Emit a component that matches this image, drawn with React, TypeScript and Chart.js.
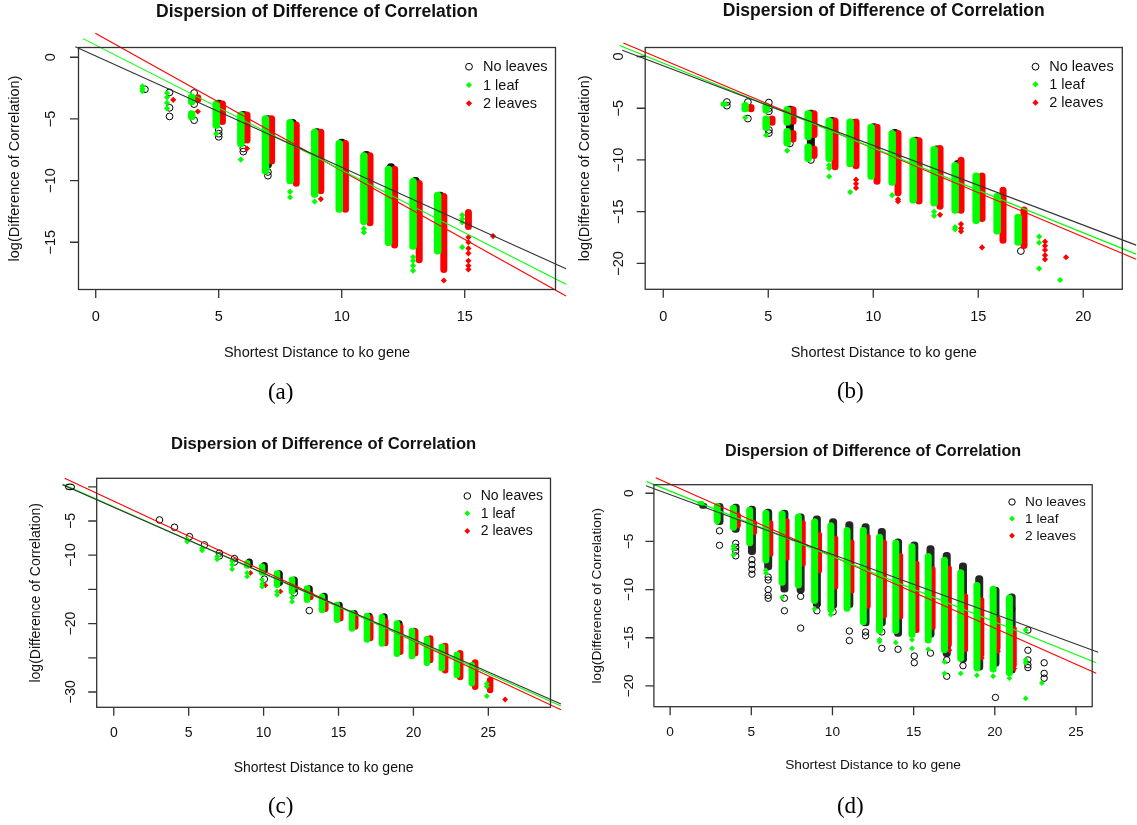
import React, { useEffect, useRef } from "react";
import { Chart, registerables } from "chart.js";

Chart.register(...registerables);

type Col = [number, number, number]; // x, top, bottom of a dense column of points
type Pt = [number, number];

const TITLE = "Dispersion of Difference of Correlation";
const X_LABEL = "Shortest Distance to ko gene";
const Y_LABEL = "log(Difference of Correlation)";
const SERIES = ["No leaves", "1 leaf", "2 leaves"];

// ---------------- panel (a) ----------------
const aXTicks = [0, 5, 10, 15];
const aYTicks = [0, -5, -10, -15];
const aBlackCols: Col[] = [
  [5, -3.45, -5.2], [6, -4.35, -7.0], [7, -4.7, -9.0], [8, -5.0, -10.0], [9, -5.75, -11.0],
  [10, -6.6, -12.2], [11, -7.6, -13.0], [12, -8.6, -14.8], [13, -9.7, -15.0], [14, -10.9, -15.5],
];
const aBlackPts: Pt[] = [
  [2, -2.6], [3, -2.85], [3, -4.1], [3, -4.8], [4, -2.9], [4, -3.8], [4, -5.1], [5, -5.9], [5, -6.2],
  [5, -6.45], [6, -7.4], [6, -7.65], [7, -9.3], [7, -9.6],
];
const aGreenCols: Col[] = [
  [4, -2.95, -3.9], [4, -4.3, -5.1], [5, -3.5, -5.8], [6, -4.4, -7.3], [7, -4.7, -9.5], [8, -5.0, -10.3],
  [9, -5.8, -11.4], [10, -6.7, -12.6], [11, -7.7, -13.6], [12, -8.8, -15.3], [13, -9.8, -15.6], [14, -10.9, -16.0],
];
const aGreenPts: Pt[] = [
  [2, -2.35], [2, -2.55], [2, -2.75], [3, -2.9], [3, -3.25], [3, -3.7], [3, -4.15], [5, -6.2], [6, -8.3],
  [8, -10.9], [8, -11.35], [9, -11.7], [11, -13.9], [11, -14.2], [13, -16.2], [13, -16.5], [13, -16.9],
  [13, -17.3], [15, -12.8], [15, -13.1], [15, -13.4], [15, -15.4],
];
const aRedCols: Col[] = [
  [4, -3.0, -3.7], [5, -3.5, -5.5], [6, -4.4, -7.0], [7, -4.7, -8.7], [8, -5.2, -10.5], [9, -5.8, -11.1],
  [10, -6.7, -12.6], [11, -7.7, -13.7], [12, -8.8, -15.5], [13, -9.95, -16.7], [14, -11.0, -17.5], [15, -12.3, -14.0],
];
const aRedPts: Pt[] = [
  [3, -3.45], [4, -4.4], [6, -7.4], [9, -11.5], [14, -18.1], [15, -14.6], [15, -15.0], [15, -15.5],
  [15, -15.9], [15, -16.5], [15, -16.9], [15, -17.2], [16, -14.5],
];
const aFitNone: Pt[] = [[-0.83, 0.86], [19.12, -17.14]];
const aFitLeaf1: Pt[] = [[-0.52, 1.51], [19.12, -18.41]];
const aFitLeaf2: Pt[] = [[-0.015, 1.95], [19.12, -19.35]];

// ---------------- panel (b) ----------------
const bXTicks = [0, 5, 10, 15, 20];
const bYTicks = [0, -5, -10, -15, -20];
const bBlackCols: Col[] = [
  [6, -4.75, -8.0], [7, -5.15, -9.5], [8, -5.85, -10.0], [9, -6.05, -10.5], [10, -6.45, -11.5],
  [11, -7.0, -12.0], [12, -7.75, -13.5], [13, -8.6, -14.0], [14, -10.0, -15.0],
];
const bBlackPts: Pt[] = [
  [3, -4.4], [3, -4.75], [4, -4.4], [4, -6.0], [5, -4.45], [5, -5.0], [5, -5.3], [5, -7.1], [5, -7.4],
  [6, -6.5], [6, -7.7], [6, -8.4], [7, -7.7], [7, -10.0], [17, -18.8],
];
const bGreenCols: Col[] = [
  [3, -4.35, -4.85], [4, -4.4, -5.4], [5, -4.45, -5.5], [5, -5.7, -7.2], [6, -4.8, -6.7], [6, -6.9, -8.7],
  [7, -5.2, -8.1], [7, -8.4, -10.2], [8, -5.9, -10.2], [9, -6.0, -10.7], [10, -6.5, -11.9], [11, -7.1, -12.5],
  [12, -7.8, -14.2], [13, -8.65, -14.5], [14, -10.2, -15.2], [15, -11.2, -16.2], [16, -13.2, -17.2], [17, -15.2, -18.3],
];
const bGreenPts: Pt[] = [
  [4, -5.9], [5, -7.6], [6, -9.1], [8, -10.5], [8, -10.8], [8, -11.6], [9, -13.1], [11, -13.4], [13, -15.0],
  [13, -15.4], [14, -16.5], [14, -16.7], [18, -17.4], [18, -18.0], [18, -20.5], [19, -21.6],
];
const bRedCols: Col[] = [
  [4, -4.6, -5.4], [5, -5.7, -6.7], [6, -4.8, -6.6], [6, -7.1, -8.3], [7, -5.2, -7.9], [7, -8.6, -9.9],
  [8, -5.9, -11.0], [9, -6.0, -10.9], [10, -6.5, -12.4], [11, -7.1, -13.5], [12, -7.8, -14.3], [13, -8.55, -14.8],
  [14, -9.7, -15.2], [15, -11.2, -16.0], [16, -12.6, -18.1], [17, -14.5, -18.6],
];
const bRedPts: Pt[] = [
  [9, -11.9], [9, -12.3], [9, -12.7], [11, -13.8], [11, -14.0], [13, -15.3], [14, -16.2], [14, -16.6],
  [14, -16.9], [15, -18.45], [18, -17.9], [18, -18.3], [18, -18.7], [18, -19.2], [18, -19.6], [19, -19.4],
];
const bFitNone: Pt[] = [[-1.95, 0.6], [22.52, -18.23]];
const bFitLeaf1: Pt[] = [[-2.08, 1.06], [22.52, -19.1]];
const bFitLeaf2: Pt[] = [[-1.9, 1.3], [22.52, -19.6]];

// ---------------- panel (c) ----------------
const cXTicks = [0, 5, 10, 15, 20, 25];
const cYTicks = [0, -5, -10, -15, -20, -25, -30];
const cYTickLabels = [0, -5, -10, -20, -30];
const cBlackCols: Col[] = [
  [9, -10.5, -11.9], [10, -11.0, -12.7], [11, -12.2, -14.4], [12, -13.1, -15.5], [13, -14.4, -16.0],
  [14, -15.5, -18.2], [15, -16.8, -19.2], [16, -18.0, -20.5], [17, -18.4, -21.5], [18, -18.5, -22.0],
  [19, -19.5, -23.5], [20, -20.6, -24.0], [21, -21.8, -25.0], [22, -22.9, -26.0], [23, -24.1, -27.2], [24, -25.5, -28.5],
];
const cBlackPts: Pt[] = [
  [3, -4.85], [4, -5.92], [5, -7.29], [6, -8.5], [7, -9.7], [7, -10.1], [8, -10.5], [8, -11.0],
  [10, -13.5], [11, -14.0], [12, -15.5], [13, -18.1],
];
const cGreenCols: Col[] = [
  [9, -10.7, -12.0], [10, -11.2, -13.0], [11, -12.2, -14.8], [12, -13.1, -15.8], [13, -14.4, -17.0],
  [14, -15.6, -18.5], [15, -16.8, -19.9], [16, -18.0, -21.2], [17, -18.4, -22.8], [18, -18.6, -23.4],
  [19, -19.5, -24.9], [20, -20.6, -25.2], [21, -21.8, -26.2], [22, -22.9, -27.0], [23, -24.1, -28.0], [24, -25.6, -29.2],
];
const cGreenPts: Pt[] = [
  [5, -7.7], [5, -8.0], [6, -9.0], [6, -9.3], [7, -10.2], [7, -10.6], [8, -10.8], [8, -11.4], [8, -12.05],
  [9, -12.6], [9, -13.1], [10, -13.6], [10, -14.2], [10, -14.6], [11, -15.3], [11, -15.8], [12, -16.2],
  [12, -16.8], [25, -28.8], [25, -29.2], [25, -30.6],
];
const cRedCols: Col[] = [
  [12, -14.4, -15.1], [13, -15.3, -16.6], [14, -16.6, -18.3], [15, -17.5, -19.7], [16, -18.3, -20.9],
  [17, -18.7, -22.6], [18, -19.2, -23.3], [19, -19.95, -24.6], [20, -20.7, -24.8], [21, -21.7, -25.8],
  [22, -22.8, -27.3], [23, -23.85, -28.3], [24, -25.2, -29.7], [25, -27.8, -30.2],
];
const cRedPts: Pt[] = [[9, -12.6], [10, -14.4], [11, -15.3], [26, -31.1]];
const cFitNone: Pt[] = [[-3.42, 0.3], [29.85, -31.76]];
const cFitLeaf1: Pt[] = [[-3.42, 0.41], [29.85, -32.05]];
const cFitLeaf2: Pt[] = [[-3.28, 1.24], [29.85, -32.6]];

// ---------------- panel (d) ----------------
const dXTicks = [0, 5, 10, 15, 20, 25];
const dYTicks = [0, -5, -10, -15, -20];
const dBlackCols: Col[] = [
  [2, -1.0, -1.6], [3, -1.0, -3.3], [4, -1.1, -4.1], [5, -1.3, -6.4], [6, -1.6, -8.0], [7, -1.7, -10.3],
  [8, -2.1, -10.4], [9, -2.3, -11.8], [10, -2.6, -12.0], [11, -2.9, -11.9], [12, -3.1, -13.8], [13, -3.6, -13.8],
  [14, -4.7, -14.9], [15, -5.0, -14.5], [16, -5.4, -15.0], [17, -6.1, -17.0], [18, -7.2, -17.6], [19, -8.5, -18.4],
  [20, -9.7, -18.0], [21, -10.4, -18.7],
];
const dBlackPts: Pt[] = [
  [3, -3.9], [3, -5.4], [4, -5.2], [4, -5.6], [4, -6.0], [4, -6.5], [5, -6.9], [5, -7.4], [5, -7.9], [5, -8.4],
  [6, -8.7], [6, -9.0], [6, -10.0], [6, -10.6], [6, -10.9], [7, -10.9], [7, -12.2], [8, -10.7], [8, -14.0],
  [9, -11.6], [9, -12.2], [10, -12.3], [11, -14.3], [11, -15.3], [12, -14.4], [12, -14.8], [13, -14.4],
  [13, -16.1], [14, -16.2], [15, -16.9], [15, -17.6], [16, -16.6], [17, -17.3], [17, -19.0], [18, -17.9],
  [20, -21.2], [21, -12.0], [22, -14.2], [22, -16.3], [22, -17.3], [22, -17.8], [22, -18.1], [23, -17.6],
  [23, -18.7], [23, -19.2],
];
const dGreenCols: Col[] = [
  [2, -0.8, -1.3], [3, -1.0, -3.1], [4, -1.2, -3.9], [5, -1.4, -5.5], [6, -1.7, -7.3], [7, -1.8, -9.6],
  [8, -2.1, -9.9], [9, -2.6, -11.5], [10, -3.0, -12.4], [11, -3.5, -12.3], [12, -3.5, -13.7], [13, -4.2, -14.6],
  [14, -4.8, -14.6], [15, -5.2, -15.0], [16, -6.2, -15.6], [17, -6.6, -16.6], [18, -7.9, -17.5], [19, -9.2, -18.5],
  [20, -9.6, -18.6], [21, -10.5, -19.0],
];
const dGreenPts: Pt[] = [
  [3, -3.05], [4, -5.5], [4, -5.8], [4, -6.4], [6, -8.0], [6, -8.3], [7, -10.8], [9, -12.0], [10, -12.6],
  [13, -15.2], [13, -15.4], [14, -15.5], [15, -15.2], [15, -16.1], [16, -16.2], [17, -17.5], [17, -18.7],
  [18, -18.7], [19, -18.9], [20, -19.0], [21, -19.2], [22, -14.2], [22, -17.3], [22, -17.6], [22, -21.3], [23, -19.7],
];
const dRedCols: Col[] = [
  [4, -2.0, -3.6], [5, -2.8, -4.3], [6, -2.8, -6.6], [7, -2.6, -7.0], [8, -2.8, -7.6], [9, -4.0, -8.3],
  [10, -4.4, -10.0], [11, -4.8, -10.4], [12, -4.2, -12.0], [13, -4.8, -13.0], [14, -6.2, -13.1], [15, -7.0, -14.5],
  [16, -7.6, -14.2], [17, -7.5, -16.0], [18, -10.4, -16.5], [19, -10.8, -17.0], [20, -12.8, -16.3], [21, -13.8, -18.1],
];
const dRedPts: Pt[] = [[17, -16.3], [19, -17.1], [20, -16.4], [21, -18.2]];
const dFitNone: Pt[] = [[-1.49, 0.79], [26.37, -16.51]];
const dFitLeaf1: Pt[] = [[-1.45, 1.21], [26.25, -17.59]];
const dFitLeaf2: Pt[] = [[-0.89, 1.62], [26.25, -18.69]];

// ---------------- styling / layout ----------------
const FONT = '"Liberation Sans", Arial, Helvetica, sans-serif';
const SERIF = '"Liberation Serif", "Times New Roman", serif';
const C_NONE = "#000000";
const C_LEAF1 = "#00ff00";
const C_LEAF2 = "#ff0000";
const LINE_COLORS = ["#333333", C_LEAF1, C_LEAF2];

interface Panel {
  caption: string;
  canvas: [number, number, number, number];
  box: [number, number, number, number];
  xRange: [number, number];
  yRange: [number, number];
  xTicks: number[];
  yTicks: number[];
  yTickLabels: number[];
  black: { cols: Col[]; pts: Pt[] };
  green: { cols: Col[]; pts: Pt[] };
  red: { cols: Col[]; pts: Pt[] };
  fits: Pt[][];
  titleY: number; titleSize: number; textSize: number;
  xLabelY: number; yLabelX: number; xTickLabelY: number; yTickLabelX: number;
  legendSymX: number; legendTextX: number; legendY: number[];
  captionX: number; captionY: number;
  dx: [number, number, number]; // black, green, red offsets
  w: [number, number, number];
  circleR: number; diamondR: number; blackFill: string;
}

const PANELS: Panel[] = [
  {
    caption: "a", canvas: [0, 0, 568, 412], box: [78.5, 47.5, 555.5, 289.5],
    xRange: [-0.7, 18.69], yRange: [-18.83, 0.79], xTicks: aXTicks, yTicks: aYTicks, yTickLabels: aYTicks,
    black: { cols: aBlackCols, pts: aBlackPts }, green: { cols: aGreenCols, pts: aGreenPts }, red: { cols: aRedCols, pts: aRedPts },
    fits: [aFitNone, aFitLeaf1, aFitLeaf2],
    titleY: 12, titleSize: 17.5, textSize: 14.5, xLabelY: 353.3, yLabelX: 15.3, xTickLabelY: 317.3, yTickLabelX: 50.9,
    legendSymX: 469, legendTextX: 483, legendY: [66.7, 85, 103.3], captionX: 280.7, captionY: 393,
    dx: [0, -0.1, 0.15], w: [8, 7.5, 7], circleR: 3.4, diamondR: 3.1, blackFill: "#141414",
  },
  {
    caption: "b", canvas: [568, 0, 569, 412], box: [645.2, 47.5, 1122.3, 289.3],
    xRange: [-0.86, 21.86], yRange: [-22.5, 0.87], xTicks: bXTicks, yTicks: bYTicks, yTickLabels: bYTicks,
    black: { cols: bBlackCols, pts: bBlackPts }, green: { cols: bGreenCols, pts: bGreenPts }, red: { cols: bRedCols, pts: bRedPts },
    fits: [bFitNone, bFitLeaf1, bFitLeaf2],
    titleY: 11, titleSize: 17.5, textSize: 14.5, xLabelY: 352.7, yLabelX: 584.5, xTickLabelY: 316.7, yTickLabelX: 618.8,
    legendSymX: 1035.5, legendTextX: 1049.2, legendY: [66.7, 84.3, 102.7], captionX: 850.3, captionY: 392,
    dx: [0.03, -0.1, 0.18], w: [8, 7.5, 7], circleR: 3.4, diamondR: 3.1, blackFill: "#141414",
  },
  {
    caption: "c", canvas: [0, 412, 568, 413], box: [96.7, 478.3, 550.5, 707.3],
    xRange: [-1.14, 29.15], yRange: [-32.24, 1.24], xTicks: cXTicks, yTicks: cYTicks, yTickLabels: cYTickLabels,
    black: { cols: cBlackCols, pts: cBlackPts }, green: { cols: cGreenCols, pts: cGreenPts }, red: { cols: cRedCols, pts: cRedPts },
    fits: [cFitNone, cFitLeaf1, cFitLeaf2],
    titleY: 444, titleSize: 16.6, textSize: 14, xLabelY: 768.3, yLabelX: 36.4, xTickLabelY: 733.3, yTickLabelX: 70.9,
    legendSymX: 467.3, legendTextX: 480.7, legendY: [496, 513.3, 531], captionX: 280.7, captionY: 806.7,
    dx: [0.05, -0.1, 0.12], w: [7, 6.5, 6.5], circleR: 3.3, diamondR: 2.9, blackFill: "#141414",
  },
  {
    caption: "d", canvas: [568, 412, 569, 413], box: [653.9, 484.7, 1092.2, 706.7],
    xRange: [-1.0, 26.0], yRange: [-22.16, 0.89], xTicks: dXTicks, yTicks: dYTicks, yTickLabels: dYTicks,
    black: { cols: dBlackCols, pts: dBlackPts }, green: { cols: dGreenCols, pts: dGreenPts }, red: { cols: dRedCols, pts: dRedPts },
    fits: [dFitNone, dFitLeaf1, dFitLeaf2],
    titleY: 451.7, titleSize: 16.1, textSize: 13.7, xLabelY: 765.7, yLabelX: 597.1, xTickLabelY: 732.3, yTickLabelX: 629.7,
    legendSymX: 1012, legendTextX: 1025, legendY: [502, 518.7, 535.7], captionX: 850.3, captionY: 806.7,
    dx: [0.04, -0.1, 0.2], w: [8, 7, 5], circleR: 3.2, diamondR: 2.9, blackFill: "#262626",
  },
];

const fmt = (v: number) => (v < 0 ? "\u2212" + Math.abs(v) : String(v));

function diamond(ctx: CanvasRenderingContext2D, x: number, y: number, r: number) {
  ctx.beginPath();
  ctx.moveTo(x - r, y);
  ctx.lineTo(x, y - r);
  ctx.lineTo(x + r, y);
  ctx.lineTo(x, y + r);
  ctx.closePath();
  ctx.fill();
}

function decor(p: Panel) {
  return {
    id: "decor_" + p.caption,
    afterDraw(chart: any) {
      const ctx = chart.ctx as CanvasRenderingContext2D;
      const xs = chart.scales.x;
      const ys = chart.scales.y;
      const ca = chart.chartArea;
      const ox = p.canvas[0];
      const oy = p.canvas[1];
      const tick = 8.5;
      ctx.save();
      ctx.strokeStyle = "#333333";
      ctx.lineWidth = 1.3;
      ctx.strokeRect(ca.left, ca.top, ca.right - ca.left, ca.bottom - ca.top);
      ctx.beginPath();
      p.xTicks.forEach((t) => {
        const x = xs.getPixelForValue(t);
        ctx.moveTo(x, ca.bottom);
        ctx.lineTo(x, ca.bottom + tick);
      });
      p.yTicks.forEach((t) => {
        const y = ys.getPixelForValue(t);
        ctx.moveTo(ca.left, y);
        ctx.lineTo(ca.left - tick, y);
      });
      ctx.stroke();

      ctx.fillStyle = "#111111";
      ctx.textAlign = "center";
      ctx.textBaseline = "middle";
      ctx.font = `${p.textSize}px ${FONT}`;
      p.xTicks.forEach((t) => ctx.fillText(fmt(t), xs.getPixelForValue(t), p.xTickLabelY - oy));
      p.yTickLabels.forEach((t) => {
        ctx.save();
        ctx.translate(p.yTickLabelX - ox, ys.getPixelForValue(t));
        ctx.rotate(-Math.PI / 2);
        ctx.fillText(fmt(t), 0, 0);
        ctx.restore();
      });
      const cx = (ca.left + ca.right) / 2;
      ctx.fillText(X_LABEL, cx, p.xLabelY - oy);
      ctx.save();
      ctx.translate(p.yLabelX - ox, (ca.top + ca.bottom) / 2);
      ctx.rotate(-Math.PI / 2);
      ctx.fillText(Y_LABEL, 0, 0);
      ctx.restore();

      ctx.font = `bold ${p.titleSize}px ${FONT}`;
      ctx.fillText(TITLE, cx, p.titleY - oy);

      // legend
      ctx.font = `${p.textSize}px ${FONT}`;
      ctx.textAlign = "left";
      const sx = p.legendSymX - ox;
      const tx = p.legendTextX - ox;
      SERIES.forEach((s, i) => {
        const y = p.legendY[i] - oy;
        if (i === 0) {
          ctx.beginPath();
          ctx.strokeStyle = "#000000";
          ctx.lineWidth = 1;
          ctx.arc(sx, y, p.circleR, 0, Math.PI * 2);
          ctx.stroke();
        } else {
          ctx.fillStyle = i === 1 ? C_LEAF1 : C_LEAF2;
          diamond(ctx, sx, y, p.diamondR);
        }
        ctx.fillStyle = "#111111";
        ctx.fillText(s, tx, y + 0.5);
      });

      ctx.textAlign = "center";
      ctx.font = `23px ${SERIF}`;
      ctx.fillStyle = "#000000";
      ctx.fillText(`(${p.caption})`, p.captionX - ox, p.captionY - oy);
      ctx.restore();
    },
  };
}

function buildDatasets(p: Panel) {
  const ds: any[] = [];
  p.fits.forEach((f, i) => {
    ds.push({
      type: "line",
      data: f.map(([x, y]) => ({ x, y })),
      borderColor: LINE_COLORS[i],
      borderWidth: 1.1,
      pointRadius: 0,
      fill: false,
      tension: 0,
      clip: false,
      order: 0,
    });
  });
  const groups = [
    { g: p.green, color: C_LEAF1, dx: p.dx[1], w: p.w[1], order: 1, circle: false },
    { g: p.red, color: C_LEAF2, dx: p.dx[2], w: p.w[2], order: 2, circle: false },
    { g: p.black, color: C_NONE, dx: p.dx[0], w: p.w[0], order: 3, circle: true },
  ];
  groups.forEach(({ g, color, dx, w, order, circle }) => {
    ds.push({
      type: "scatter",
      data: g.pts.map(([x, y]) => ({ x: x + dx, y })),
      pointStyle: circle ? "circle" : "rectRot",
      pointRadius: circle ? p.circleR : p.diamondR,
      pointBorderWidth: circle ? 1 : 0,
      borderWidth: circle ? 1 : 0,
      borderColor: color,
      backgroundColor: circle ? "rgba(0,0,0,0)" : color,
      pointBackgroundColor: circle ? "rgba(0,0,0,0)" : color,
      pointBorderColor: color,
      order,
    });
    ds.push({
      type: "bar",
      data: g.cols.map(([x, hi, lo]) => ({ x: x + dx, y: [lo, hi] })),
      backgroundColor: circle ? p.blackFill : color,
      borderWidth: 0,
      barThickness: w,
      grouped: false,
      borderRadius: Math.min(w / 2, 3.5),
      borderSkipped: false,
      inflateAmount: 0,
      order,
    });
  });
  return ds;
}

function PanelChart({ p }: { p: Panel }) {
  const ref = useRef<HTMLCanvasElement>(null);
  useEffect(() => {
    const [cl, ct, cw, chh] = p.canvas;
    const [bl, bt, br, bb] = p.box;
    const chart = new Chart(ref.current as HTMLCanvasElement, {
      type: "scatter",
      data: { datasets: buildDatasets(p) },
      options: {
        animation: false,
        responsive: false,
        devicePixelRatio: 1,
        events: [],
        layout: {
          padding: { left: bl - cl, top: bt - ct, right: cl + cw - br, bottom: ct + chh - bb },
        },
        scales: {
          x: { type: "linear", min: p.xRange[0], max: p.xRange[1], display: false, offset: false, grid: { offset: false } },
          y: { type: "linear", min: p.yRange[0], max: p.yRange[1], display: false, offset: false },
        },
        plugins: { legend: { display: false }, tooltip: { enabled: false } },
      } as any,
      plugins: [decor(p)],
    });
    return () => chart.destroy();
  }, [p]);
  const [cl, ct, cw, chh] = p.canvas;
  return (
    <canvas
      ref={ref}
      width={cw}
      height={chh}
      style={{ position: "absolute", left: cl, top: ct, width: cw, height: chh }}
    />
  );
}

export default function App() {
  return (
    <div style={{ position: "absolute", left: 0, top: 0, width: 1137, height: 825, background: "#ffffff", overflow: "hidden" }}>
      {PANELS.map((p) => (
        <PanelChart key={p.caption} p={p} />
      ))}
    </div>
  );
}
